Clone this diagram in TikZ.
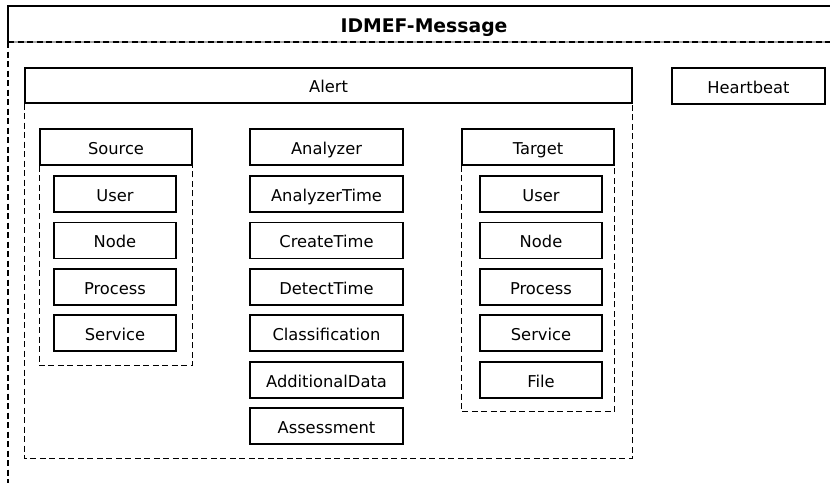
\documentclass[tikz,border=0pt]{standalone}
\usepackage{fontspec}
\setmainfont{DejaVu Sans}
\begin{document}
\begin{tikzpicture}[x=1pt,y=-1pt,
  every node/.style={font=\fontsize{16.3pt}{19pt}\selectfont},
  box/.style={draw, line width=1.2pt, inner sep=0pt, minimum height=36pt,
    text height=14.5pt, text depth=0pt},
  wide/.style={box, minimum width=153pt},
  small/.style={box, minimum width=122pt},
  dashline/.style={line width=1.5pt, dash pattern=on 6pt off 3.5pt},
  solidline/.style={line width=1.2pt}]
\useasboundingbox (0,0) rectangle (830,482);

% IDMEF-Message frame (runs off the right and bottom edges)
\coordinate (mtl) at (8,6);
\coordinate (mtr) at (832,6);
\coordinate (mhl) at (8,42);
\coordinate (mhr) at (832,42);
\coordinate (mbl) at (8,484);
\node[font=\fontsize{18.8pt}{22pt}\selectfont\bfseries, text height=16pt, text depth=0pt]
  (msg) at (424,24) {IDMEF-Message};
\draw[solidline] (mhl) -- (mtl) -- (mtr);
\draw[line width=1.2pt, black!35] (mhl) -- (mhr);
\draw[dashline] (mhl) -- (mhr);
\draw[dashline] (mhl) -- (mbl);

% Alert and Heartbeat
\node[box, minimum width=607pt, minimum height=35pt] (alert) at (328.5,85.5) {Alert};
\draw[dashline] (alert.south west) -- ++(0,355) -| (alert.south east);
\node[wide] (hb) at (748.5,86) {Heartbeat};

% Source
\node[box, minimum width=152pt] (src) at (116,147) {Source};
\draw[dashline] (src.south west) -- ++(0,200) -| (src.south east);
\node[small] (suser) at (115,194) {User};
\node[small] (snode) at (115,240.5) {Node};
\node[small] (sproc) at (115,287) {Process};
\node[small] (sserv) at (115,333) {Service};

% Middle column
\node[wide] (ana) at (326.5,147) {Analyzer};
\node[wide] (anat) at (326.5,194) {AnalyzerTime};
\node[wide] (ct) at (326.5,240.5) {CreateTime};
\node[wide] (dt) at (326.5,287) {DetectTime};
\node[wide] (cls) at (326.5,333) {Classification};
\node[wide] (add) at (326.5,380) {AdditionalData};
\node[wide] (ass) at (326.5,426) {Assessment};

% Target
\node[box, minimum width=152pt] (tgt) at (538,147) {Target};
\draw[dashline] (tgt.south west) -- ++(0,246) -| (tgt.south east);
\node[small] (tuser) at (541,194) {User};
\node[small] (tnode) at (541,240.5) {Node};
\node[small] (tproc) at (541,287) {Process};
\node[small] (tserv) at (541,333) {Service};
\node[small] (tfile) at (541,380) {File};
\end{tikzpicture}
\end{document}
